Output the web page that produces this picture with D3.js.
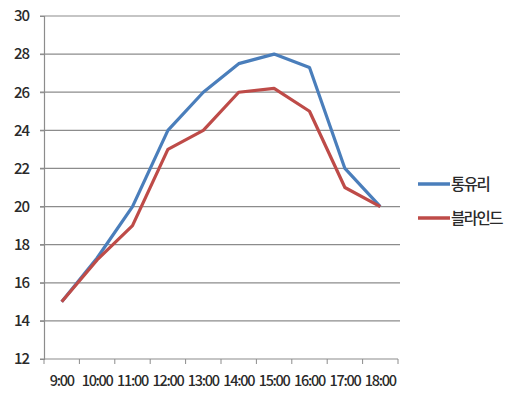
<!DOCTYPE html>
<html><head><meta charset="utf-8">
<script src="https://cdn.jsdelivr.net/npm/d3@7"></script>
<style>body{margin:0;background:#fff}svg{display:block}</style>
</head><body><svg id="c" width="511" height="394"></svg>
<script>
const categories = ["9:00","10:00","11:00","12:00","13:00","14:00","15:00","16:00","17:00","18:00"];
const seriesNames = ["통유리","블라인드"];
const glassValues = [15,17.3,20,24,26,27.5,28,27.3,22,20];
const blindValues = [15,17.2,19,23,24,26,26.2,25,21,20];
const yTicks = [12,14,16,18,20,22,24,26,28,30];
const colors = ["#4A7EBB","#BE4B48"];

const svg = d3.select("#c");
const font = "'Noto Sans CJK KR', 'Liberation Sans', sans-serif";
const x = d3.scaleBand().domain(categories).range([44,398]);
const y = d3.scaleLinear().domain([12,30]).range([359,16]);

// gridlines
svg.append("g").selectAll("line").data(yTicks.filter(d=>d>12)).join("line")
  .attr("x1",40).attr("x2",400).attr("y1",d=>y(d)).attr("y2",d=>y(d))
  .attr("stroke","#8c8c8c").attr("stroke-width",1.2);

// y axis
const ya = svg.append("g").attr("transform","translate(44,0)")
  .call(d3.axisLeft(y).tickValues(yTicks).tickSize(4).tickPadding(11));
ya.select(".domain").attr("stroke","#8c8c8c").attr("stroke-width",1.2);
ya.selectAll(".tick line").attr("stroke","#8c8c8c");
ya.selectAll("text").attr("font-family",font).attr("font-size",15).attr("fill","#2a2a2a")
  .attr("letter-spacing","-1").attr("font-weight",500);

// x axis
const xa = svg.append("g").attr("transform","translate(0,359)")
  .call(d3.axisBottom(x).tickSize(0).tickPadding(17));
xa.select(".domain").attr("d","M40,0H398").attr("stroke","#8c8c8c").attr("stroke-width",1.2);
xa.selectAll("text").attr("font-family",font).attr("font-size",14.5).attr("fill","#2a2a2a")
  .attr("letter-spacing","-1.3").attr("font-weight",500);
// category boundary ticks
const bounds = categories.map(c=>x(c)).concat([x.range()[1]]);
svg.append("g").selectAll("line").data(bounds).join("line")
  .attr("x1",d=>d).attr("x2",d=>d).attr("y1",359).attr("y2",364)
  .attr("stroke","#8c8c8c");

const line = d3.line().x((d,i)=>x(categories[i])+x.bandwidth()/2).y(d=>y(d));
[glassValues, blindValues].forEach((vals,k)=>{
  svg.append("path").datum(vals).attr("d",line).attr("fill","none")
    .attr("stroke",colors[k]).attr("stroke-width",3.2).attr("stroke-linejoin","round");
});

// legend
const lg = svg.append("g").selectAll("g").data(seriesNames).join("g")
  .attr("transform",(d,i)=>`translate(418,${184+i*34})`);
lg.append("line").attr("x1",0).attr("x2",32).attr("stroke",(d,i)=>colors[i]).attr("stroke-width",3.5);
lg.append("text").attr("x",33).attr("y",6).text(d=>d)
  .attr("font-family",font).attr("font-size",15.5).attr("fill","#2a2a2a")
  .attr("letter-spacing","-1.5").attr("font-weight",500);
</script></body></html>
